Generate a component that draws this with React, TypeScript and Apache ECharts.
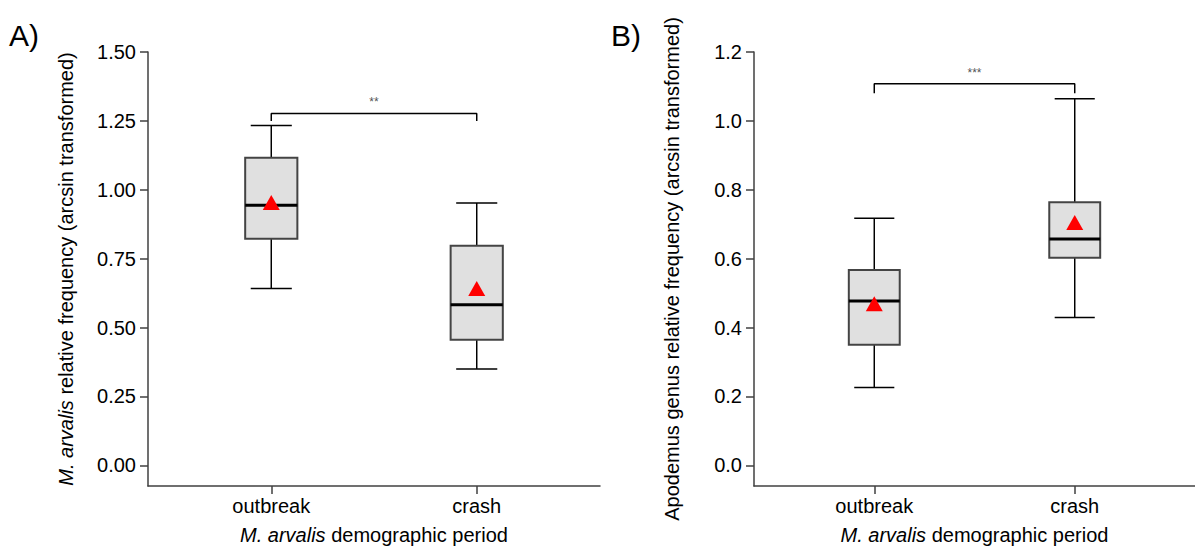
import React, { useEffect, useRef } from "react";
import * as echarts from "echarts";

const categories = ["outbreak", "crash"];
const catPositions = [1, 2];

// [min, Q1, median, Q3, max]
const aBoxes = [
  [0.642, 0.822, 0.944, 1.116, 1.233],
  [0.35, 0.456, 0.583, 0.797, 0.952],
];
const aMeans = [0.954, 0.642];
const aTicks = [0, 0.25, 0.5, 0.75, 1.0, 1.25, 1.5];
const aBracket = { low: 1.25, high: 1.277, label: "**" };

const bBoxes = [
  [0.226, 0.35, 0.477, 0.567, 0.717],
  [0.429, 0.603, 0.657, 0.764, 1.064],
];
const bMeans = [0.469, 0.705];
const bTicks = [0, 0.2, 0.4, 0.6, 0.8, 1.0, 1.2];
const bBracket = { low: 1.08, high: 1.108, label: "***" };

const FONT = "'Liberation Sans', Arial, sans-serif";
const AXIS_COLOR = "#404040";
const FS = 20;

function boxRender(params: any, api: any) {
  const x = api.value(0);
  const pMin = api.coord([x, api.value(1)]);
  const pQ1 = api.coord([x, api.value(2)]);
  const pMed = api.coord([x, api.value(3)]);
  const pQ3 = api.coord([x, api.value(4)]);
  const pMax = api.coord([x, api.value(5)]);
  const cx = pMed[0];
  const halfBox = api.size([0.127, 0])[0];
  const halfCap = api.size([0.1, 0])[0];
  const ws = { stroke: "#000", lineWidth: 1.5 };
  return {
    type: "group",
    children: [
      { type: "line", shape: { x1: cx, y1: pMax[1], x2: cx, y2: pQ3[1] }, style: ws },
      { type: "line", shape: { x1: cx, y1: pMin[1], x2: cx, y2: pQ1[1] }, style: ws },
      { type: "line", shape: { x1: cx - halfCap, y1: pMax[1], x2: cx + halfCap, y2: pMax[1] }, style: ws },
      { type: "line", shape: { x1: cx - halfCap, y1: pMin[1], x2: cx + halfCap, y2: pMin[1] }, style: ws },
      {
        type: "rect",
        shape: { x: cx - halfBox, y: pQ3[1], width: 2 * halfBox, height: pQ1[1] - pQ3[1] },
        style: { fill: "#e0e0e0", stroke: "#444", lineWidth: 2 },
      },
      {
        type: "line",
        shape: { x1: cx - halfBox, y1: pMed[1], x2: cx + halfBox, y2: pMed[1] },
        style: { stroke: "#000", lineWidth: 3 },
      },
    ],
  };
}

function panelSeries(idx: number, boxes: number[][], means: number[], bracket: any) {
  return [
    {
      type: "custom",
      xAxisIndex: idx,
      yAxisIndex: idx,
      renderItem: boxRender,
      clip: false,
      encode: { x: 0, y: [1, 2, 3, 4, 5] },
      data: boxes.map((b, i) => [catPositions[i], ...b]),
      z: 2,
    },
    {
      type: "scatter",
      xAxisIndex: idx,
      yAxisIndex: idx,
      symbol: "triangle",
      symbolSize: [17, 15],
      itemStyle: { color: "#ff0000", opacity: 1 },
      data: means.map((m, i) => [catPositions[i], m]),
      z: 5,
    },
    {
      type: "line",
      xAxisIndex: idx,
      yAxisIndex: idx,
      symbol: "none",
      lineStyle: { color: "#000", width: 1.5 },
      data: [
        [catPositions[0], bracket.low],
        [catPositions[0], bracket.high],
        [catPositions[1], bracket.high],
        [catPositions[1], bracket.low],
      ],
      z: 3,
    },
    {
      type: "scatter",
      xAxisIndex: idx,
      yAxisIndex: idx,
      symbolSize: 0,
      data: [[(catPositions[0] + catPositions[1]) / 2, bracket.high]],
      label: {
        show: true,
        position: "top",
        distance: 5,
        formatter: bracket.label,
        fontSize: 12,
        fontFamily: FONT,
        color: "#222",
      },
      z: 3,
    },
  ];
}

function xAxisCfg(idx: number, max: number) {
  return {
    type: "value",
    gridIndex: idx,
    min: 0.4,
    max,
    splitLine: { show: false },
    axisLine: { show: true, onZero: false, lineStyle: { color: AXIS_COLOR, width: 1.5 } },
    axisTick: { show: true, length: 8, customValues: catPositions, lineStyle: { color: AXIS_COLOR, width: 1.5 } },
    axisLabel: {
      show: true,
      customValues: catPositions,
      formatter: (v: number) => categories[Math.round(v) - 1] ?? "",
      fontSize: FS,
      fontFamily: FONT,
      color: "#000",
      margin: 10,
    },
    name: "{i|M. arvalis} demographic period",
    nameLocation: "middle",
    nameGap: 39,
    nameTextStyle: {
      fontSize: FS,
      fontFamily: FONT,
      color: "#000",
      rich: { i: { fontSize: FS, fontFamily: FONT, fontStyle: "italic", color: "#000" } },
    },
  };
}

function yAxisCfg(idx: number, min: number, max: number, ticks: number[], digits: number, name: string) {
  return {
    type: "value",
    gridIndex: idx,
    min,
    max,
    splitLine: { show: false },
    axisLine: { show: true, onZero: false, lineStyle: { color: AXIS_COLOR, width: 1.5 } },
    axisTick: { show: true, length: 8, customValues: ticks, lineStyle: { color: AXIS_COLOR, width: 1.5 } },
    axisLabel: {
      show: true,
      customValues: ticks,
      formatter: (v: number) => v.toFixed(digits),
      fontSize: FS,
      fontFamily: FONT,
      color: "#000",
      margin: 12,
    },
    name,
    nameLocation: "middle",
    nameRotate: 90,
    nameGap: 72,
    nameTextStyle: {
      fontSize: FS,
      fontFamily: FONT,
      color: "#000",
      rich: { i: { fontSize: FS, fontFamily: FONT, fontStyle: "italic", color: "#000" } },
    },
  };
}

export default function App() {
  const ref = useRef<HTMLDivElement>(null);
  useEffect(() => {
    if (!ref.current) return;
    const chart = echarts.init(ref.current, null, { renderer: "svg" });
    chart.setOption({
      animation: false,
      backgroundColor: "#ffffff",
      grid: [
        { left: 148, top: 52, width: 452, height: 439 },
        { left: 754, top: 52, width: 452, height: 439 },
      ],
      xAxis: [xAxisCfg(0, 2.6), xAxisCfg(1, 2.6)],
      yAxis: [
        yAxisCfg(0, -0.075, 1.5, aTicks, 2, "{i|M. arvalis} relative frequency (arcsin transformed)"),
        yAxisCfg(1, -0.06, 1.2, bTicks, 1, "Apodemus genus relative frequency (arcsin transformed)"),
      ],
      graphic: [
        {
          type: "text",
          x: 9,
          y: 35,
          style: { text: "A)", fontSize: 30, fontFamily: FONT, fill: "#000", verticalAlign: "middle", align: "left" },
        },
        {
          type: "text",
          x: 611,
          y: 35,
          style: { text: "B)", fontSize: 30, fontFamily: FONT, fill: "#000", verticalAlign: "middle", align: "left" },
        },
      ],
      series: [
        ...panelSeries(0, aBoxes, aMeans, aBracket),
        ...panelSeries(1, bBoxes, bMeans, bBracket),
      ],
    });
    return () => chart.dispose();
  }, []);
  return (
    <div
      ref={ref}
      style={{ position: "fixed", left: 0, top: 0, width: 1195, height: 550, background: "#fff" }}
    />
  );
}
